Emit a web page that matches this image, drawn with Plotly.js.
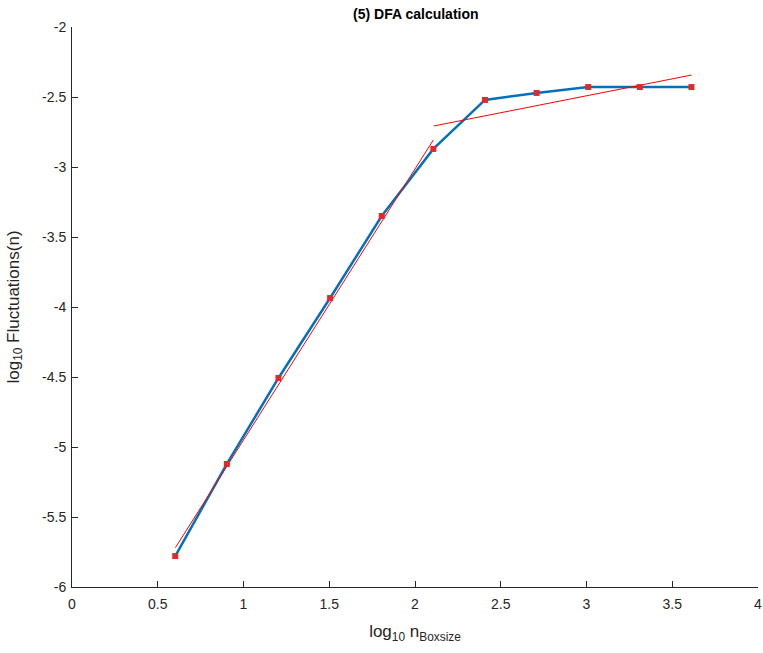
<!DOCTYPE html>
<html>
<head>
<meta charset="utf-8">
<script src="https://cdn.plot.ly/plotly-3.0.1.min.js"></script>
<style>html,body{margin:0;padding:0;background:#fff;}#chart{width:763px;height:653px;}</style>
</head>
<body>
<div id="chart"></div>
<script>
// DFA data: log10 box size vs log10 fluctuation
const logBoxsize = [0.602, 0.903, 1.204, 1.505, 1.806, 2.107, 2.408, 2.709, 3.010, 3.311, 3.612];
const logFluct = [-5.779, -5.121, -4.507, -3.936, -3.350, -2.871, -2.521, -2.471, -2.429, -2.429, -2.429];
// Fitted regression lines (two scaling regions)
const fit1X = [0.603, 2.107];
const fit1Y = [-5.719, -2.807];
const fit2X = [2.109, 3.613];
const fit2Y = [-2.707, -2.343];
// Tick labels
const xTickVals = [0, 0.5, 1, 1.5, 2, 2.5, 3, 3.5, 4];
const xTickText = ['0', '0.5', '1', '1.5', '2', '2.5', '3', '3.5', '4'];
const yTickVals = [-6, -5.5, -5, -4.5, -4, -3.5, -3, -2.5, -2];
const yTickText = ['-6', '-5.5', '-5', '-4.5', '-4', '-3.5', '-3', '-2.5', '-2'];

const axisColor = '#262626';
const traces = [
  {x: logBoxsize, y: logFluct, type: 'scatter', mode: 'lines',
   line: {color: '#0072BD', width: 2.5}, hoverinfo: 'skip'},
  {x: fit1X, y: fit1Y, type: 'scatter', mode: 'lines',
   line: {color: '#FF0000', width: 1}, hoverinfo: 'skip'},
  {x: fit2X, y: fit2Y, type: 'scatter', mode: 'lines',
   line: {color: '#FF0000', width: 1}, hoverinfo: 'skip'},
  {x: logBoxsize, y: logFluct, type: 'scatter', mode: 'markers',
   marker: {symbol: 'square', size: 6, color: '#DE2A2A', line: {width: 0}}, hoverinfo: 'skip'}
];
const layout = {
  width: 763, height: 653,
  margin: {l: 72, r: 5, t: 27, b: 66},
  paper_bgcolor: '#ffffff', plot_bgcolor: '#ffffff',
  showlegend: false,
  font: {family: 'Liberation Sans, Arial, sans-serif', size: 14, color: axisColor},
  title: {text: '<b>(5) DFA calculation</b>', x: 0.545, xanchor: 'center', y: 0.979, yanchor: 'middle',
          font: {family: 'Liberation Sans, Arial, sans-serif', size: 14, color: '#000000'}},
  xaxis: {
    range: [0, 4], tickvals: xTickVals, ticktext: xTickText,
    showgrid: false, zeroline: false, showline: true, linecolor: axisColor, linewidth: 1,
    ticks: 'inside', ticklen: 6, tickcolor: axisColor, tickfont: {size: 14, color: axisColor},
    ticklabelstandoff: 4,
    title: {text: 'log<sub>10</sub> n<sub>Boxsize</sub>', font: {size: 17, color: axisColor}, standoff: 14},
    fixedrange: true
  },
  yaxis: {
    range: [-6, -2], tickvals: yTickVals, ticktext: yTickText,
    showgrid: false, zeroline: false, showline: true, linecolor: axisColor, linewidth: 1,
    ticks: 'inside', ticklen: 6, tickcolor: axisColor, tickfont: {size: 14, color: axisColor},
    ticklabelstandoff: 2,
    title: {text: 'log<sub>10</sub> Fluctuations(n)', font: {size: 17, color: axisColor}, standoff: 18},
    fixedrange: true
  }
};
Plotly.newPlot('chart', traces, layout, {staticPlot: true, displayModeBar: false});
</script>
</body>
</html>
